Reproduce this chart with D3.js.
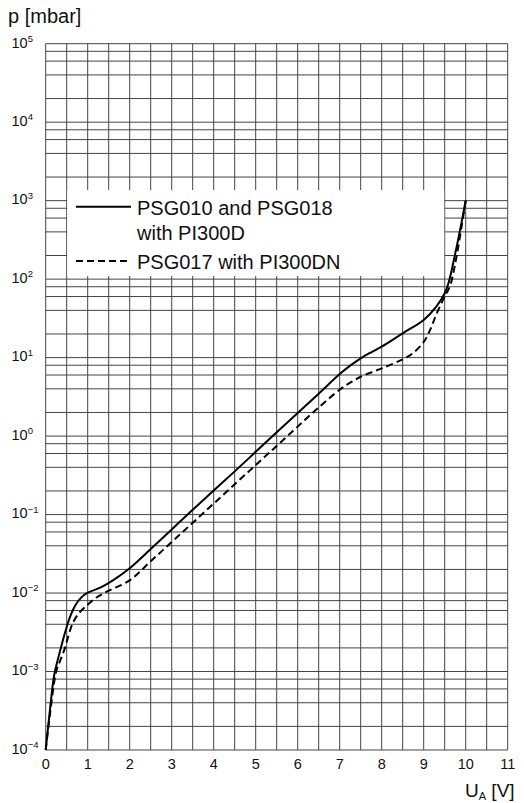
<!DOCTYPE html>
<html>
<head>
<meta charset="utf-8">
<script src="https://cdnjs.cloudflare.com/ajax/libs/d3/7.8.5/d3.min.js"></script>
<style>
  body { margin: 0; background: #fff; }
  text { font-family: "Liberation Sans", Arial, sans-serif; fill: #111; }
</style>
</head>
<body>
<script>
// x ticks (U_A in V) and y decades (p in mbar)
var xTicks = [0, 1, 2, 3, 4, 5, 6, 7, 8, 9, 10, 11];
var yExponents = [-4, -3, -2, -1, 0, 1, 2, 3, 4, 5];
var minorFactors = [2, 4, 6, 8];

// PSG010 and PSG018 with PI300D (solid)
var solidU = [0, 0.1, 0.2, 0.3, 0.4, 0.5, 0.6, 0.7, 0.85, 1.0, 1.3, 1.6, 2.0, 2.5, 3.0, 3.5, 4.0, 4.5, 5.0, 5.5, 6.0, 6.5, 7.0, 7.25, 7.5, 7.75, 8.0, 8.5, 9.0, 9.3, 9.5, 9.6, 9.7, 9.8, 9.9, 10.0];
var solidP = [0.0001, 0.00032, 0.00089, 0.0015, 0.0024, 0.0037, 0.0053, 0.0069, 0.0088, 0.0101, 0.0117, 0.0145, 0.0207, 0.0363, 0.0646, 0.115, 0.202, 0.355, 0.63, 1.12, 1.97, 3.47, 6.17, 7.9, 9.8, 11.7, 13.8, 20.4, 30.2, 44.7, 66, 93, 158, 282, 525, 1000];

// PSG017 with PI300DN (dashed)
var dashU = [0, 0.1, 0.25, 0.35, 0.46, 0.56, 0.66, 0.8, 1.0, 1.2, 1.5, 2.0, 2.5, 3.0, 3.5, 4.0, 4.5, 5.0, 5.5, 6.0, 6.5, 7.0, 7.25, 7.5, 8.0, 8.5, 8.75, 9.0, 9.15, 9.3, 9.47, 9.63, 9.75, 9.85, 10.0];
var dashP = [0.0001, 0.00028, 0.001, 0.0014, 0.002, 0.0031, 0.0043, 0.0056, 0.0071, 0.0087, 0.0107, 0.0145, 0.0254, 0.0447, 0.0785, 0.138, 0.243, 0.427, 0.75, 1.32, 2.32, 3.9, 4.8, 5.7, 7.3, 9.5, 11.5, 15.8, 22.4, 35.5, 56, 83, 158, 316, 1000];

var legendLabels = [["PSG010 and PSG018", "with PI300D"], ["PSG017 with PI300DN"]];

var width = 524, height = 803;
var plot = {left: 45.7, right: 507.7, top: 43.7, bottom: 750};

var svg = d3.select("body").append("svg")
  .attr("width", width)
  .attr("height", height);

// scales
var x = d3.scaleLinear().domain([0, 11]).range([plot.left, plot.right]);
var y = d3.scaleLog().domain([1e-4, 1e5]).range([plot.bottom, plot.top]);

// horizontal grid: decades + 2,4,6,8
var hLines = [];
yExponents.forEach(function(e) {
  hLines.push(Math.pow(10, e));
  if (e < 5) minorFactors.forEach(function(f) { hLines.push(f * Math.pow(10, e)); });
});

svg.append("g").selectAll("line")
  .data(hLines)
  .enter().append("line")
  .attr("x1", plot.left).attr("x2", plot.right)
  .attr("y1", function(d) { return y(d); })
  .attr("y2", function(d) { return y(d); })
  .attr("stroke", "#444")
  .attr("stroke-width", 1);

// vertical grid every 0.5 V
var vLines = d3.range(0, 11.01, 0.5);
svg.append("g").selectAll("line")
  .data(vLines)
  .enter().append("line")
  .attr("y1", plot.top).attr("y2", plot.bottom)
  .attr("x1", function(d) { return x(d); })
  .attr("x2", function(d) { return x(d); })
  .attr("stroke", "#444")
  .attr("stroke-width", 1);

// legend background covers the grid
svg.append("rect")
  .attr("x", x(0.5) + 0.5)
  .attr("y", 190)
  .attr("width", x(9.5) - x(0.5) - 1)
  .attr("height", 86)
  .attr("fill", "#fff");

// curves
var line = d3.line()
  .x(function(d) { return x(d[0]); })
  .y(function(d) { return y(d[1]); })
  .curve(d3.curveCatmullRom.alpha(0.5));

svg.append("path")
  .datum(d3.zip(solidU, solidP))
  .attr("d", line)
  .attr("fill", "none")
  .attr("stroke", "#000")
  .attr("stroke-width", 2);

svg.append("path")
  .datum(d3.zip(dashU, dashP))
  .attr("d", line)
  .attr("fill", "none")
  .attr("stroke", "#000")
  .attr("stroke-width", 2)
  .attr("stroke-dasharray", "7,4");

// legend
svg.append("line")
  .attr("x1", 76).attr("x2", 131).attr("y1", 206.7).attr("y2", 206.7)
  .attr("stroke", "#000").attr("stroke-width", 2);
svg.append("line")
  .attr("x1", 76).attr("x2", 131).attr("y1", 261).attr("y2", 261)
  .attr("stroke", "#000").attr("stroke-width", 2)
  .attr("stroke-dasharray", "7,4");

svg.append("text").attr("x", 137).attr("y", 215).style("font-size", "20px").text(legendLabels[0][0]);
svg.append("text").attr("x", 137).attr("y", 240).style("font-size", "20px").text(legendLabels[0][1]);
svg.append("text").attr("x", 137).attr("y", 269).style("font-size", "20px").text(legendLabels[1][0]);

// x tick labels
svg.append("g").selectAll("text")
  .data(xTicks)
  .enter().append("text")
  .attr("x", function(d) { return x(d); })
  .attr("y", 769)
  .style("text-anchor", "middle")
  .style("font-size", "14.5px")
  .text(function(d) { return d; });

// y tick labels 10^n
var yLab = svg.append("g").selectAll("text")
  .data(yExponents)
  .enter().append("text")
  .attr("x", 11.5)
  .attr("y", function(d) { return y(Math.pow(10, d)) + 3.8; })
  .style("font-size", "14.5px");
yLab.append("tspan").text("10");
yLab.append("tspan")
  .attr("dy", -5.5)
  .style("font-size", "9.5px")
  .text(function(d) { return d < 0 ? "\u2212" + (-d) : d; });

// axis titles
svg.append("text")
  .attr("x", 8)
  .attr("y", 23)
  .style("font-size", "20px")
  .text("p [mbar]");

var xt = svg.append("text")
  .attr("x", 465)
  .attr("y", 797)
  .style("font-size", "19px");
xt.append("tspan").text("U");
xt.append("tspan").attr("dy", 3).style("font-size", "11px").text("A");
xt.append("tspan").attr("dy", -3).text(" [V]");
</script>
</body>
</html>
